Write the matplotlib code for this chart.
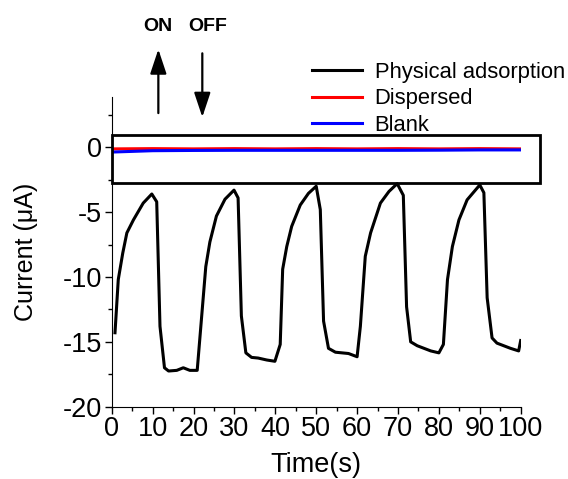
import numpy as np
import matplotlib
matplotlib.use("Agg")
import matplotlib.pyplot as plt
from matplotlib.patches import Rectangle
from matplotlib.ticker import MultipleLocator

plt.rcParams['font.family'] = ['Liberation Sans', 'DejaVu Sans']
plt.rcParams['axes.unicode_minus'] = False

# photocurrent response
t_phys = [0.8, 1.6, 2.7, 3.7, 5.3, 7.7, 9.8, 11.0, 11.8, 12.9, 13.9, 15.9, 17.5, 19.1, 20.9,
          23.0, 24.0, 25.6, 27.7, 29.9, 30.9, 31.7, 32.8, 34.2, 35.8, 37.9, 39.9,
          41.2, 41.8, 42.8, 44.0, 46.1, 48.1, 50.0, 51.0, 51.8, 53.0, 54.7, 57.9, 60.0,
          60.8, 62.0, 63.3, 65.7, 67.8, 69.8, 71.3, 72.1, 73.1, 74.7, 78.0, 80.0,
          81.1, 82.1, 83.3, 84.9, 86.9, 90.0, 91.0, 91.8, 93.0, 94.2, 97.5, 99.5, 100.0]
i_phys = [-14.3, -10.2, -8.15, -6.6, -5.6, -4.3, -3.6, -4.2, -13.8, -17.0, -17.25, -17.2, -17.0, -17.2, -17.2,
          -9.2, -7.3, -5.3, -4.0, -3.3, -3.9, -13.0, -15.85, -16.2, -16.25, -16.4, -16.5,
          -15.2, -9.4, -7.65, -6.1, -4.45, -3.55, -3.0, -4.8, -13.4, -15.5, -15.8, -15.9, -16.15,
          -13.8, -8.4, -6.6, -4.3, -3.4, -2.8, -3.7, -12.3, -15.0, -15.3, -15.7, -15.85,
          -15.2, -10.2, -7.65, -5.6, -4.05, -2.9, -3.5, -11.6, -14.7, -15.1, -15.5, -15.7, -14.9]

t_flat = [0.5, 10, 20, 30, 40, 50, 60, 70, 80, 90, 100]
i_disp = [-0.12, -0.1, -0.12, -0.1, -0.12, -0.1, -0.12, -0.1, -0.12, -0.1, -0.12]
i_blank = [-0.36, -0.26, -0.24, -0.23, -0.23, -0.23, -0.23, -0.23, -0.22, -0.2, -0.2]

fig = plt.figure(figsize=(5.68, 4.79), dpi=100)
ax = fig.add_axes([0.1967, 0.151, 0.72, 0.647])

ax.plot(t_phys, i_phys, color='black', lw=2.2, label='Physical adsorption')
ax.plot(t_flat, i_disp, color='red', lw=2.2, label='Dispersed')
ax.plot(t_flat, i_blank, color='blue', lw=2.2, label='Blank')

ax.set_xlim(0, 100)
ax.set_ylim(-20, 3.9)
ax.xaxis.set_major_locator(MultipleLocator(10))
ax.xaxis.set_minor_locator(MultipleLocator(5))
ax.yaxis.set_major_locator(MultipleLocator(5))
ax.yaxis.set_minor_locator(MultipleLocator(2.5))
ax.tick_params(which='major', direction='out', length=5, width=1, labelsize=19.5, pad=2)
ax.tick_params(which='minor', direction='out', length=3, width=1)
ax.spines['top'].set_visible(False)
ax.spines['right'].set_visible(False)
ax.set_xlabel('Time(s)', fontsize=19.5, labelpad=7)
ax.set_ylabel('Current (μA)', fontsize=18, labelpad=18)

# box around the flat curves
rect = Rectangle((0.15, -2.72), 104.65, 3.67, fill=False, ec='black', lw=2, clip_on=False, zorder=5)
ax.add_patch(rect)

leg = ax.legend(loc='upper left', bbox_to_anchor=(312 / 568, 1 - 62 / 479), bbox_transform=fig.transFigure,
                frameon=False, fontsize=15.8, handlelength=2.3, handletextpad=0.55,
                labelspacing=0.24, borderpad=0, borderaxespad=0)

# light on / off markers
arrow_style = '-|>,head_length=0.75,head_width=0.25'
ax.annotate('', xy=(11.4, 7.56), xytext=(11.4, 2.64), annotation_clip=False,
            arrowprops=dict(arrowstyle=arrow_style, color='black', lw=1.6, mutation_scale=20,
                            shrinkA=0, shrinkB=0))
ax.annotate('', xy=(22.15, 2.33), xytext=(22.15, 7.25), annotation_clip=False,
            arrowprops=dict(arrowstyle=arrow_style, color='black', lw=1.6, mutation_scale=20,
                            shrinkA=0, shrinkB=0))
ax.text(11.4, 9.3, 'ON', ha='center', va='center', fontsize=14, fontweight='bold', clip_on=False)
ax.text(23.4, 9.3, 'OFF', ha='center', va='center', fontsize=14, fontweight='bold', clip_on=False)

fig.savefig('out.png', dpi=100)
